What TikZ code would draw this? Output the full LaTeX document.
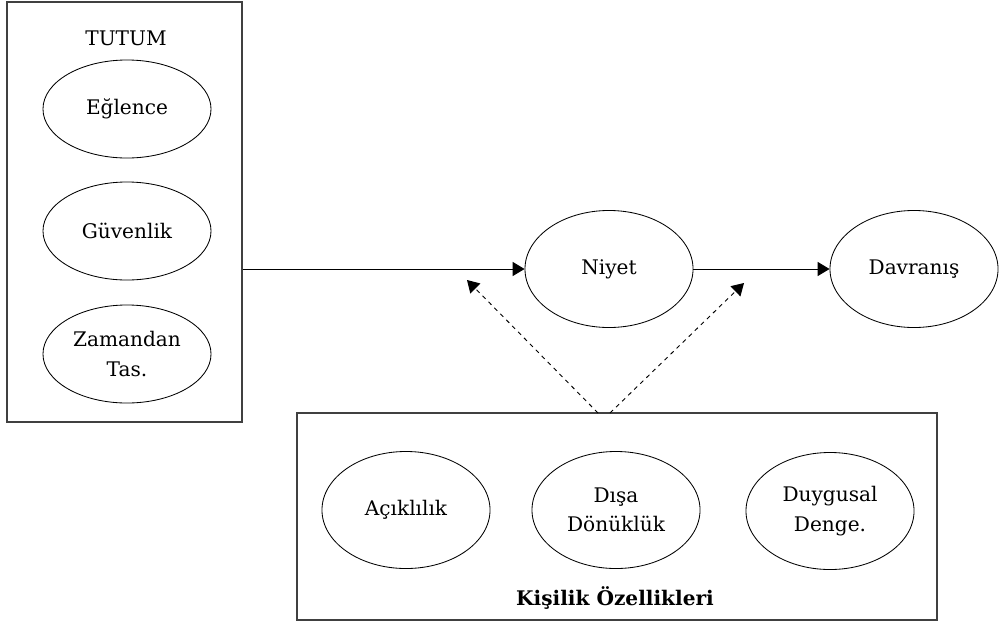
\documentclass[tikz,border=0pt]{standalone}
\usepackage{fontspec}
\setmainfont{DejaVu Serif}
\usetikzlibrary{arrows.meta,shapes.geometric}

\begin{document}
\begin{tikzpicture}[x=0.025cm, y=-0.025cm,
  font=\fontsize{14.3}{21}\selectfont,
  oval/.style={ellipse, draw, line width=0.6pt, inner sep=0pt, align=center,
    minimum width=4.2cm, minimum height=2.925cm},
  smalloval/.style={oval, minimum height=2.45cm},
  frame/.style={draw=black!75, line width=1.1pt, inner sep=0pt},
  arr/.style={line width=0.65pt, -{Triangle[length=8.5pt,width=10pt]}},
  darr/.style={arr, dashed}]
\useasboundingbox (0,0) rectangle (1003,625);

% Attitude block
\node[frame, minimum width=5.875cm, minimum height=10.5cm] (tutumbox) at (124.5,212) {};
\node (tutum) at (126,38) {TUTUM};
\node[smalloval] (eglence) at (127,109) {Eğlence};
\node[smalloval] (guvenlik) at (127,231) {Güvenlik};
\node[smalloval] (zaman) at (127,354) {Zamandan\\Tas.};

% Intention and behaviour
\node[oval] (niyet) at (609,269) {Niyet};
\node[oval] (davranis) at (914,269) {Davranış};

\draw[arr] (tutumbox.east |- niyet) -- (niyet);
\draw[arr] (niyet) -- (davranis);

% Personality block
\node[frame, minimum width=16cm, minimum height=5.175cm] (kisilik) at (617,516.5) {};
\node[oval] (acik) at (406,510) {Açıklılık};
\node[oval] (disa) at (616,510) {Dışa\\Dönüklük};
\node[oval] (denge) at (830,511) {Duygusal\\Denge.};
\node[font=\fontsize{14.3}{17}\selectfont\bfseries] (kisiliklbl) at (615,598) {Kişilik Özellikleri};

% Moderating effects
\coordinate (lstart) at (598,413);
\coordinate (rstart) at (610,413);
\coordinate (ltip) at (467,280);
\coordinate (rtip) at (744,283);
\draw[darr] (lstart) -- (ltip);
\draw[darr] (rstart) -- (rtip);
\end{tikzpicture}
\end{document}
